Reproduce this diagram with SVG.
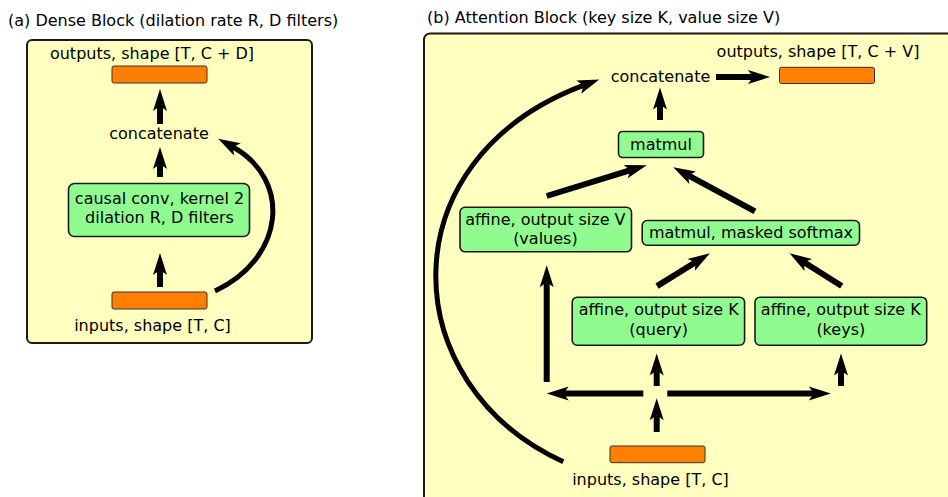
<svg xmlns="http://www.w3.org/2000/svg" width="948" height="497" viewBox="0 0 948 497">
<style>
text{font-family:"DejaVu Sans","Liberation Sans",sans-serif;font-size:16px;fill:#000}
.c{text-anchor:middle}
.panel{fill:#ffffbf;stroke:#1a1a1a;stroke-width:2}
.op{fill:#90fc90;stroke:#1a1a1a;stroke-width:1.6}
.ten{fill:#ff8000;stroke:#333;stroke-width:1}
.ar{fill:none;stroke:#000;stroke-width:6;marker-end:url(#ah)}
.cv{fill:none;stroke:#000;stroke-width:5;marker-end:url(#ah)}
</style>
<defs>
<marker id="ah" markerUnits="userSpaceOnUse" markerWidth="40" markerHeight="40" viewBox="-10 -20 40 40" refX="0" refY="0" orient="auto" overflow="visible">
<path d="M-5,-7 L17,0 L-5,7 L0,0 Z" fill="#000"/>
</marker>
</defs>
<text x="8" y="25.5">(a) Dense Block (dilation rate R, D filters)</text>
<text x="427" y="23">(b) Attention Block (key size K, value size V)</text>
<g id="panelA"><rect class="panel" x="27" y="40" width="285" height="303" rx="5"/></g>
<g id="panelB"><rect class="panel" x="424" y="33.5" width="540" height="480" rx="6"/></g>
<g id="a-out"><text class="c" x="152" y="59">outputs, shape [T, C + D]</text><rect class="ten" x="112" y="66" width="95" height="17" rx="2"/></g>
<g id="a-concat"><text class="c" x="159" y="139">concatenate</text></g>
<g id="a-conv"><rect class="op" x="68.5" y="183.5" width="181" height="53" rx="6"/><text class="c" x="159.5" y="204">causal conv, kernel 2</text><text class="c" x="159.5" y="223">dilation R, D filters</text></g>
<g id="a-in"><rect class="ten" x="112" y="292" width="95" height="17" rx="2"/><text class="c" x="152.5" y="331">inputs, shape [T, C]</text></g>
<g id="b-out"><text class="c" x="818" y="57">outputs, shape [T, C + V]</text><rect class="ten" x="779.5" y="67.3" width="95" height="16.2" rx="2"/></g>
<g id="b-concat"><text class="c" x="660.5" y="81.7">concatenate</text></g>
<g id="b-matmul"><rect class="op" x="618.5" y="131.5" width="85" height="26" rx="4"/><text class="c" x="661" y="149.5">matmul</text></g>
<g id="b-values"><rect class="op" x="460" y="207.3" width="171.5" height="44.5" rx="5"/><text class="c" x="545.4" y="224.5">affine, output size V</text><text class="c" x="545.4" y="243.5">(values)</text></g>
<g id="b-softmax"><rect class="op" x="642.2" y="220.5" width="217.3" height="24.7" rx="5"/><text class="c" x="751" y="237.5">matmul, masked softmax</text></g>
<g id="b-query"><rect class="op" x="572.2" y="297.2" width="172.4" height="48" rx="5"/><text class="c" x="658.7" y="315">affine, output size K</text><text class="c" x="658.7" y="335">(query)</text></g>
<g id="b-keys"><rect class="op" x="755" y="297.2" width="171.7" height="48" rx="5"/><text class="c" x="840.8" y="315">affine, output size K</text><text class="c" x="840.8" y="335">(keys)</text></g>
<g id="b-in"><rect class="ten" x="610" y="446" width="95" height="16.7" rx="2"/><text class="c" x="650.5" y="484.5">inputs, shape [T, C]</text></g>
<g id="connectors">
<path class="ar" d="M160,124 V106"/>
<path class="ar" d="M160,177 V164"/>
<path class="ar" d="M160,287 V270"/>
<path class="cv" d="M215,291 C285,258 292,180 233,147"/>
<path class="ar" d="M716,77 H753"/>
<path class="ar" d="M660,120 V104.5"/>
<path class="ar" d="M546.7,196 L630.5,170.2"/>
<path class="ar" d="M755,211.4 L688.2,175.4"/>
<path class="ar" d="M657,286.1 L695.5,262.2"/>
<path class="ar" d="M841.7,286 L804,262.3"/>
<path class="ar" d="M546.7,382 V282.3"/>
<path class="ar" d="M643.3,393.4 H563.7"/>
<path class="ar" d="M667.3,393.4 H813.8"/>
<path class="ar" d="M656.7,386 V370.5"/>
<path class="ar" d="M841,386 V370.5"/>
<path class="ar" d="M656.7,432 V415.3"/>
<path class="cv" d="M563.3,461.7 C395,385 385,160 583.4,85.4"/>
</g>
</svg>
